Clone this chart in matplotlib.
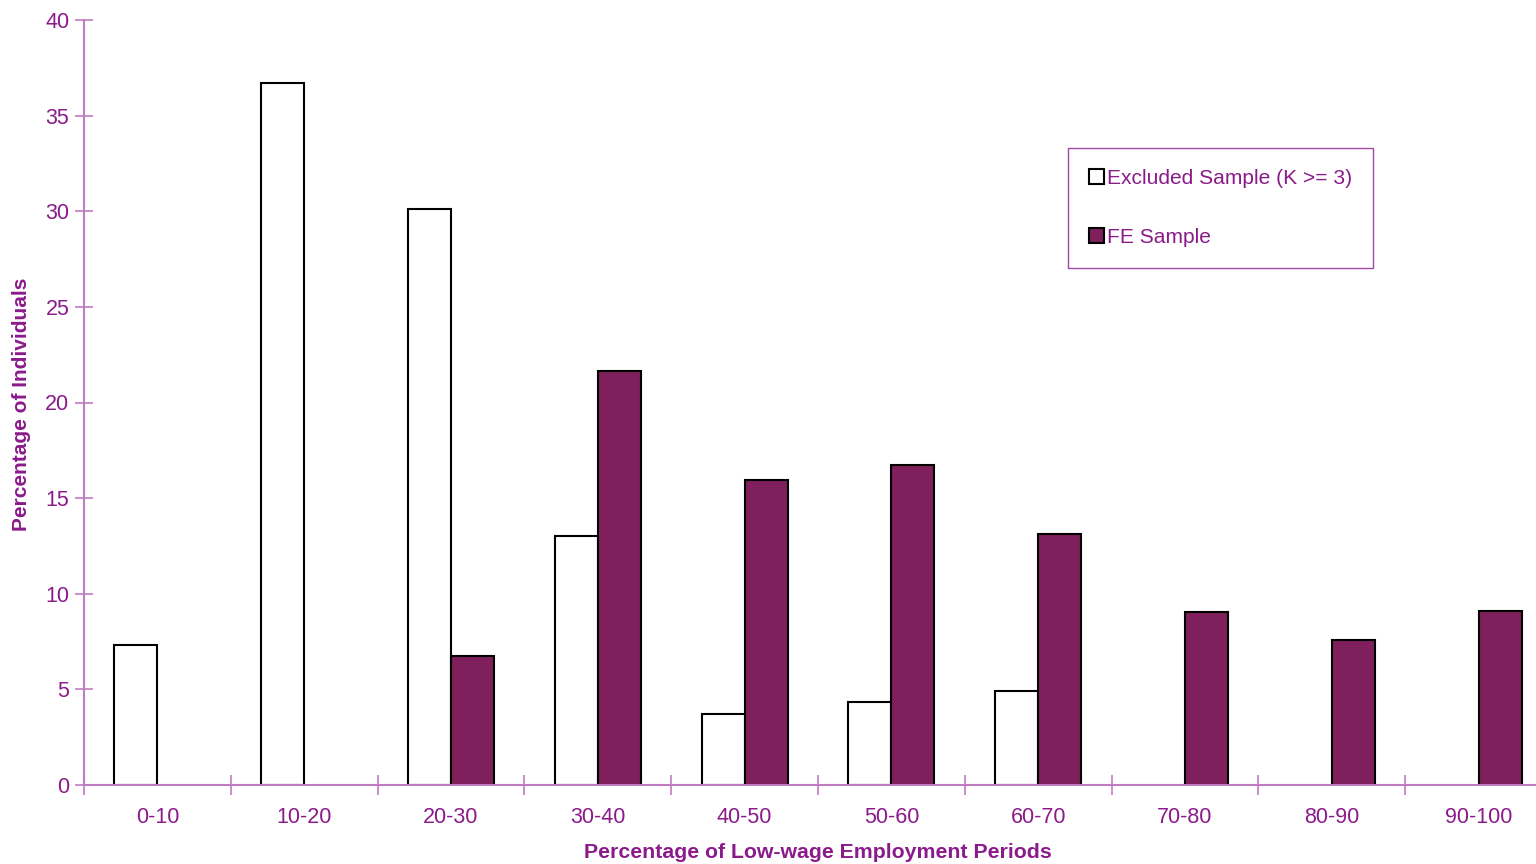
import matplotlib
matplotlib.use("Agg")
import matplotlib.pyplot as plt
import numpy as np
from matplotlib.patches import Patch

categories = ["0-10", "10-20", "20-30", "30-40", "40-50", "50-60", "60-70", "70-80", "80-90", "90-100"]
excluded = [7.3, 36.7, 30.1, 13.0, 3.7, 4.35, 4.9, 0, 0, 0]
fe_sample = [0, 0, 6.75, 21.65, 15.95, 16.75, 13.15, 9.05, 7.6, 9.1]
yticks = [0, 5, 10, 15, 20, 25, 30, 35, 40]

TXT = "#8B1A8B"
AX = "#C07CC0"
FILL = "#7F1F5C"

plt.rcParams['font.family'] = ['Liberation Sans', 'DejaVu Sans']

fig = plt.figure(figsize=(15.36, 8.64), dpi=100)
ax = fig.add_axes([84/1536, 1-785/864, 1468/1536, 765/864])

x = np.arange(len(categories))
w = 0.293
ex_x = [xi - w for xi, v in zip(x, excluded) if v > 0]
ex_v = [v for v in excluded if v > 0]
fe_x = [xi for xi, v in zip(x, fe_sample) if v > 0]
fe_v = [v for v in fe_sample if v > 0]
ax.bar(ex_x, ex_v, width=w, align='edge', color='white', edgecolor='black', linewidth=1.5)
ax.bar(fe_x, fe_v, width=w, align='edge', color=FILL, edgecolor='black', linewidth=1.5)

ax.set_xlim(-0.5, len(categories) - 0.5)
ax.set_ylim(0, 40)
ax.set_yticks(yticks)
ax.set_xticks(np.arange(len(categories)) - 0.5, minor=False)
ax.set_xticklabels([])
ax.set_xticks(x, minor=True)
ax.set_xticklabels(categories, minor=True)
ax.tick_params(axis='x', which='minor', length=0, pad=16, labelsize=15.5, labelcolor=TXT)
ax.tick_params(axis='x', which='major', direction='inout', length=14, width=1.2, color=AX)
ax.tick_params(axis='y', direction='inout', length=13, width=1.2, color=AX, labelsize=15.5,
               labelcolor=TXT, pad=4)

for s in ['top', 'right']:
    ax.spines[s].set_visible(False)
for s in ['left', 'bottom']:
    ax.spines[s].set_color(AX)
    ax.spines[s].set_linewidth(1.5)

fig.text(818/1536, 1-852/864, "Percentage of Low-wage Employment Periods", ha='center', va='center',
         fontsize=15.3, fontweight='bold', color=TXT)
fig.text(22/1536, 1-404/864, "Percentage of Individuals", ha='center', va='center', rotation=90,
         fontsize=15, fontweight='bold', color=TXT)

handles = [Patch(facecolor='white', edgecolor='black', linewidth=1.5),
           Patch(facecolor=FILL, edgecolor='black', linewidth=1.5)]
leg = fig.legend(handles, ["Excluded Sample (K >= 3)", "FE Sample"], loc='upper left',
                 bbox_to_anchor=(1068/1536, 1-148/864), bbox_transform=fig.transFigure,
                 frameon=True, fancybox=False, fontsize=15.1, handlelength=0.7, handleheight=0.7,
                 handletextpad=0.15, labelspacing=1.9, borderpad=1.0, borderaxespad=0)
leg.get_frame().set_edgecolor(TXT)
leg.get_frame().set_linewidth(1.0)
for t in leg.get_texts():
    t.set_color(TXT)

fig.savefig("out.png", dpi=100)
